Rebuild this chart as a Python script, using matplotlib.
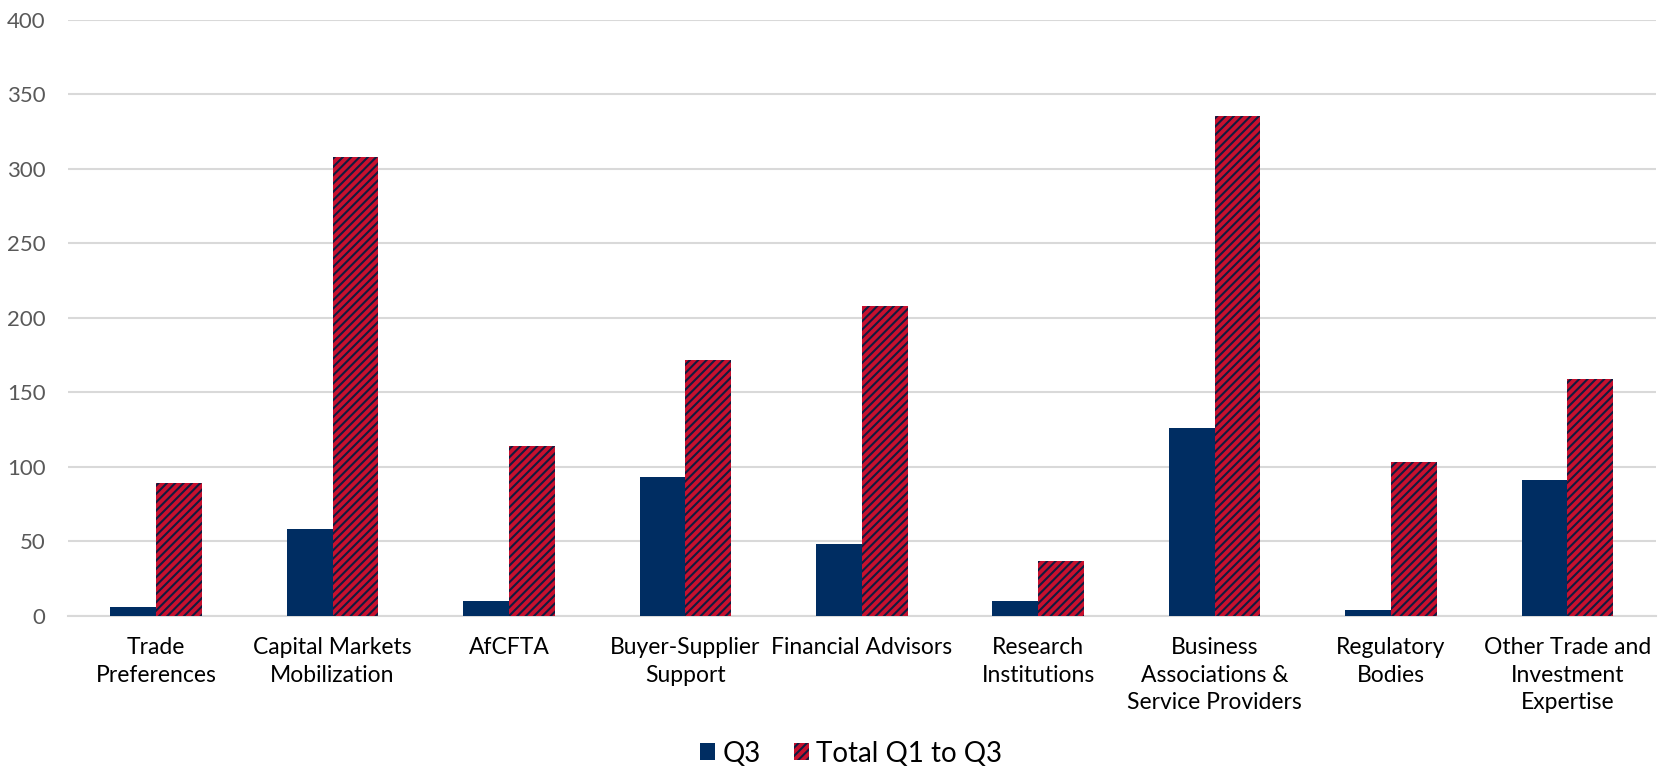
import numpy as np
import matplotlib
matplotlib.use("Agg")
import matplotlib.pyplot as plt

# data
categories = [
    "Trade\nPreferences",
    "Capital Markets\nMobilization",
    "AfCFTA",
    "Buyer-Supplier\nSupport",
    "Financial Advisors",
    "Research\nInstitutions",
    "Business\nAssociations &\nService Providers",
    "Regulatory\nBodies",
    "Other Trade and\nInvestment\nExpertise",
]
q3 = [6, 58, 10, 93, 48, 10, 126, 4, 91]
total_q1_q3 = [89, 308, 114, 172, 208, 37, 335, 103, 159]
y_ticks = [0, 50, 100, 150, 200, 250, 300, 350, 400]

NAVY = "#002D62"
STRIPE = "#101C40"
RED = "#C8102E"
GRID = "#D9D9D9"

plt.rcParams["font.family"] = ["Lato", "DejaVu Sans"]
plt.rcParams["hatch.linewidth"] = 1.5

fig = plt.figure(figsize=(16.69, 7.69), dpi=100)
ax = fig.add_axes([0.0407, 0.199, 0.9513, 0.7756])

x = np.arange(len(categories))
w = 0.26
ax.bar(x - w / 2, q3, width=w, color=NAVY, linewidth=0, label="Q3", zorder=3)
ax.bar(x + w / 2, total_q1_q3, width=w, color=RED, edgecolor=STRIPE,
       hatch="////", linewidth=0, label="Total Q1 to Q3", zorder=3)

ax.set_xlim(-0.5, len(categories) - 0.5)
ax.set_ylim(0, 400)
ax.set_yticks(y_ticks)
ax.set_xticks(x)
ax.set_xticklabels(categories, fontsize=16.5, linespacing=1.4, color="#000000")
ax.tick_params(axis="y", length=0, pad=16, labelsize=16, labelcolor="#595959")
ax.tick_params(axis="x", length=0, pad=15)

ax.grid(axis="y", color=GRID, linewidth=1.5, zorder=0)
for side in ["top", "right", "left"]:
    ax.spines[side].set_visible(False)
ax.spines["bottom"].set_color(GRID)
ax.spines["bottom"].set_linewidth(1.5)

fig.legend(loc="center", bbox_to_anchor=(0.51, 0.02), ncol=2, frameon=False,
           fontsize=20, handlelength=0.55, handleheight=0.55,
           handletextpad=0.25, columnspacing=1.2)

fig.savefig("out.png", dpi=100)
